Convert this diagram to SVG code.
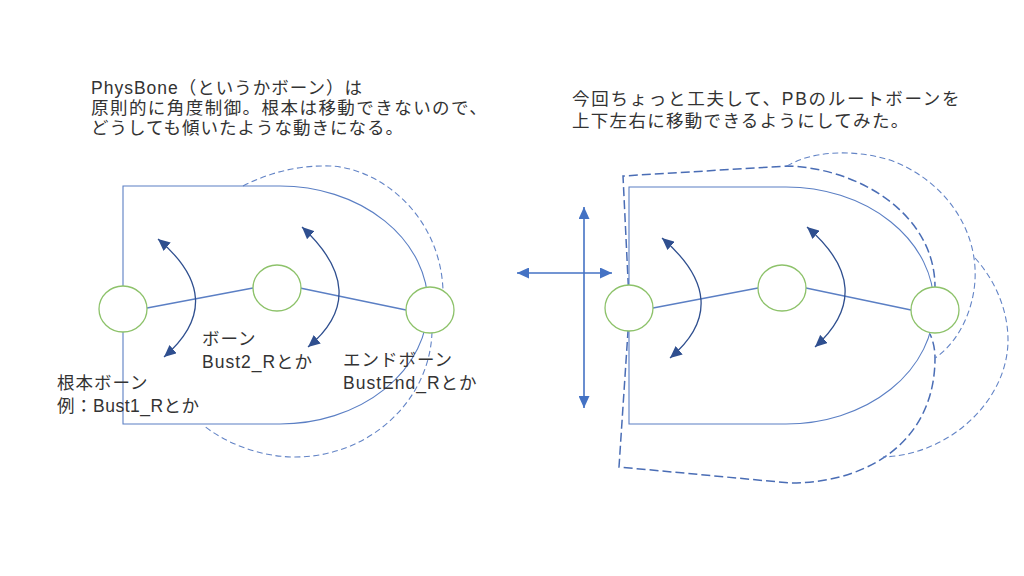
<svg xmlns="http://www.w3.org/2000/svg" width="1024" height="576" viewBox="0 0 1024 576">
  <style>
    text { font-family: "Liberation Sans", "Noto Sans CJK JP", sans-serif; font-size: 17.5px; fill: #333333; letter-spacing: 1px; }
    .shape { fill: none; stroke: #5B7FC4; stroke-width: 1.1; }
    .link { fill: none; stroke: #5B7FC4; stroke-width: 1.3; }
    .bone { fill: #ffffff; stroke: #8DC26A; stroke-width: 1.3; }
    .dashM { fill: none; stroke: #4A6DB5; stroke-width: 1.5; stroke-dasharray: 9 4; }
    .dashF { fill: none; stroke: #6384C6; stroke-width: 1.1; stroke-dasharray: 6 3.5; }
    .rot { fill: none; stroke: #2F4F8F; stroke-width: 1.3; marker-start: url(#headDark); marker-end: url(#headDark); }
    .move { fill: none; stroke: #4472C4; stroke-width: 1.6; marker-start: url(#headBlue); marker-end: url(#headBlue); }
  </style>
  <defs>
    <marker id="headDark" markerUnits="userSpaceOnUse" markerWidth="13" markerHeight="11" refX="12" refY="5.5" orient="auto-start-reverse">
      <path d="M0,0 L12,5.5 L0,11 z" fill="#2F4F8F"/>
    </marker>
    <marker id="headBlue" markerUnits="userSpaceOnUse" markerWidth="13" markerHeight="11" refX="12" refY="5.5" orient="auto-start-reverse">
      <path d="M0,0 L12,5.5 L0,11 z" fill="#4472C4"/>
    </marker>
  </defs>

  <g id="caption-left">
    <text x="91" y="94"><tspan x="91" y="94">PhysBone（というかボーン）は</tspan><tspan x="91" y="114" style="letter-spacing:1.45px">原則的に角度制御。根本は移動できないので、</tspan><tspan x="91" y="134">どうしても傾いたような動きになる。</tspan></text>
  </g>
  <g id="caption-right">
    <text x="572" y="105"><tspan x="572" y="105" style="letter-spacing:1.7px">今回ちょっと工夫して、PBのルートボーンを</tspan><tspan x="572" y="127" style="letter-spacing:1.3px">上下左右に移動できるようにしてみた。</tspan></text>
  </g>

  <!-- Left diagram -->
  <g id="left-rotated-outline">
    <path class="dashF" d="M243,186 C270,172 300,165 330,166 C380,168 440,215 443,290"/>
    <path class="dashF" d="M432,332 C430,400 370,457 295,457 C260,457 225,443 203,425"/>
  </g>
  <g id="left-body">
    <path class="shape" d="M123,186 H280 A148,119 0 0 1 280,424 H123 Z"/>
  </g>

  <!-- Right diagram -->
  <g id="right-shift-up-outline">
    <path class="dashM" d="M629,300 L623,176 L787,166 C860,168 935,215 935,287"/>
  </g>
  <g id="right-shift-down-outline">
    <path class="dashM" d="M629,316 L619,467 L790,483 C870,483 935,440 935,358 Q935,345 930,334"/>
  </g>
  <g id="right-rotated-outline">
    <path class="dashF" d="M787,166 C810,152 850,148 890,160 C940,178 978,225 975,280 C973,315 955,345 935,358"/>
    <path class="dashF" d="M975,258 C995,280 1008,310 1008,340 C1008,400 950,455 883,457"/>
  </g>
  <g id="right-body">
    <path class="shape" d="M629,187 H786 A148,118.5 0 0 1 786,424 H629 Z"/>
  </g>

  <g id="connectors">
    <line class="link" x1="147" y1="308" x2="253" y2="288"/>
    <line class="link" x1="300" y1="288" x2="406" y2="310"/>
    <line class="link" x1="653" y1="308" x2="758" y2="288"/>
    <line class="link" x1="806" y1="288" x2="911" y2="310"/>
    <path class="rot" d="M158,239 Q230,300 164,357"/>
    <path class="rot" d="M302,227 Q373,293 308,347"/>
    <path class="rot" d="M662,238 Q736,302 670,358"/>
    <path class="rot" d="M807,227 Q879,289 815,347"/>
    <line class="move" x1="584" y1="207" x2="584" y2="408"/>
    <line class="move" x1="517" y1="273" x2="612" y2="273"/>
  </g>

  <g id="bone-root-left"><ellipse class="bone" cx="123" cy="309" rx="24" ry="23"/></g>
  <g id="bone-mid-left"><ellipse class="bone" cx="277" cy="288" rx="24" ry="23"/></g>
  <g id="bone-end-left"><ellipse class="bone" cx="430" cy="310" rx="24" ry="23"/></g>
  <g id="bone-root-right"><ellipse class="bone" cx="629" cy="308" rx="24" ry="23"/></g>
  <g id="bone-mid-right"><ellipse class="bone" cx="782" cy="288" rx="24" ry="23"/></g>
  <g id="bone-end-right"><ellipse class="bone" cx="935" cy="310" rx="24" ry="23"/></g>

  <g id="labels">
    <text x="57" y="389"><tspan x="57" y="389">根本ボーン</tspan><tspan x="57" y="412" style="letter-spacing:0.5px">例：Bust1_Rとか</tspan></text>
    <text x="202" y="345"><tspan x="202" y="345">ボーン</tspan><tspan x="202" y="368">Bust2_Rとか</tspan></text>
    <text x="343" y="366"><tspan x="343" y="366">エンドボーン</tspan><tspan x="343" y="389">BustEnd_Rとか</tspan></text>
  </g>
</svg>
